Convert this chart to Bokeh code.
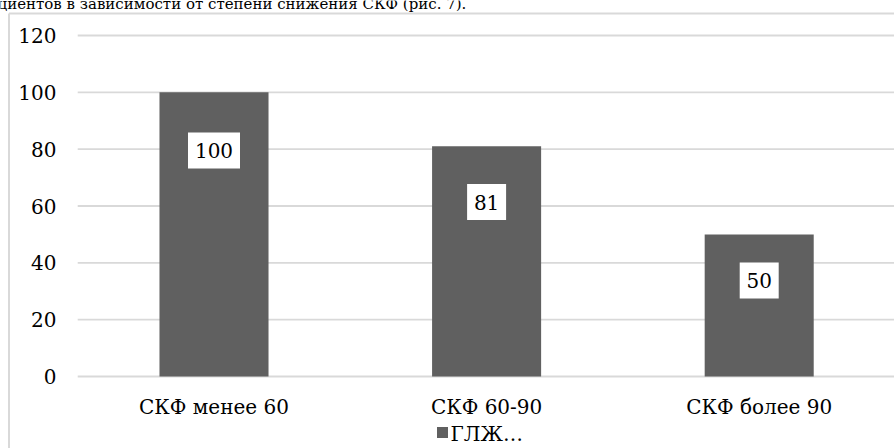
from bokeh.plotting import figure
from bokeh.models import Range1d
from bokeh.core.properties import value
from bokeh.embed import file_html
from bokeh.resources import INLINE

# --- chart data -------------------------------------------------------------
categories = ["СКФ менее 60", "СКФ 60-90", "СКФ более 90"]
glzh = [100, 81, 50]                      # series "ГЛЖ…"
series_name = "ГЛЖ…"
y_ticks = [0, 20, 40, 60, 80, 100, 120]
tick_labels = [str(t) for t in y_ticks]
caption = "циентов в зависимости от степени снижения СКФ (рис. 7)."

# heights (in value units) where each value tag is centred on its bar
tag_heights = [79.5, 61.4, 33.8]

# --- page geometry ----------------------------------------------------------
W, H = 894, 448
X0_PX, STEP_PX = 213.5, 272.6            # first category centre, category pitch
Y0_PX, PX_PER_UNIT = 376.0, 341.0 / 120  # value 0 baseline, pixels per unit

FONT = value("DejaVu Serif")
FS = "20px"
BAR = "#606060"
GRID = "#d9d9d9"
TEXT = "#000000"

xs = list(range(len(categories)))

p = figure(
    width=W, height=H, title=None,
    output_backend="svg", toolbar_location=None,
    x_range=Range1d(-X0_PX / STEP_PX, (W - X0_PX) / STEP_PX),
    y_range=Range1d(-(H - Y0_PX) / PX_PER_UNIT, Y0_PX / PX_PER_UNIT),
    x_axis_location=None, y_axis_location=None,
    min_border=0, outline_line_color=None,
    background_fill_color="white", border_fill_color="white",
)
p.grid.visible = False
# pixel-space ranges for the frame decorations
p.extra_x_ranges = {"px": Range1d(0, W)}
p.extra_y_ranges = {"px": Range1d(H, 0)}

# chart-area border (left and top edges)
p.segment(x0=[8.5, 8.5], y0=[13, 13], x1=[8.5, W], y1=[H, 13],
          x_range_name="px", y_range_name="px",
          line_color=GRID, line_width=2)

# running text of the page above the chart
p.text(x=[-3], y=[3], text=[caption], x_range_name="px", y_range_name="px",
       text_font=FONT, text_font_size="15px", text_color=TEXT,
       text_baseline="middle", text_align="left")

# horizontal gridlines across the category slots
n = len(categories)
p.segment(x0=[-0.5] * len(y_ticks), x1=[n - 0.5] * len(y_ticks),
          y0=y_ticks, y1=y_ticks, line_color=GRID, line_width=1.8)

# bars
p.vbar(x=xs, top=glzh, bottom=0, width=0.4, fill_color=BAR, line_color=None)

# y tick labels
p.text(x=[56] * len(y_ticks), y=y_ticks, text=tick_labels,
       x_range_name="px", text_font=FONT, text_font_size=FS,
       text_color=TEXT, text_align="right", text_baseline="middle")

# category labels
p.text(x=xs, y=[406] * n, text=categories, y_range_name="px",
       text_font=FONT, text_font_size=FS, text_color=TEXT,
       text_align="center", text_baseline="middle")

# value tags: white boxes with the bar value
tags = [str(v) for v in glzh]
p.rect(x=xs, y=tag_heights, width=[13 * len(t) + 13 for t in tags], height=36,
       width_units="screen", height_units="screen",
       fill_color="white", line_color=None)
p.text(x=xs, y=tag_heights, text=tags, text_font=FONT, text_font_size=FS,
       text_color=TEXT, text_align="center", text_baseline="middle")

# legend
p.rect(x=[442], y=[432], width=[11], height=[11],
       x_range_name="px", y_range_name="px", fill_color=BAR, line_color=None)
p.text(x=[450], y=[433], text=[series_name], x_range_name="px", y_range_name="px",
       text_font=FONT, text_font_size=FS, text_color=TEXT,
       text_align="left", text_baseline="middle")

open("out.html", "w").write(file_html(p, INLINE))
